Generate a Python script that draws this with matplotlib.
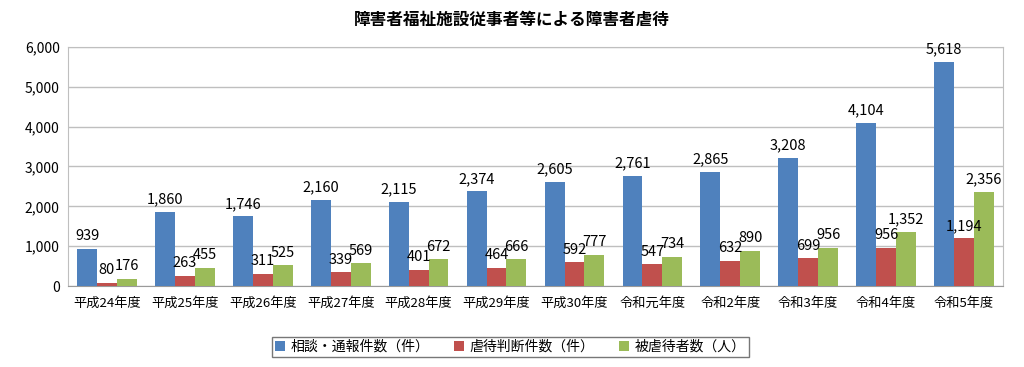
import matplotlib
matplotlib.use("Agg")
import matplotlib.pyplot as plt
import numpy as np

plt.rcParams['font.family'] = ['Noto Sans CJK JP', 'DejaVu Sans']

categories = ["平成24年度", "平成25年度", "平成26年度", "平成27年度", "平成28年度", "平成29年度",
              "平成30年度", "令和元年度", "令和2年度", "令和3年度", "令和4年度", "令和5年度"]
consultations = [939, 1860, 1746, 2160, 2115, 2374, 2605, 2761, 2865, 3208, 4104, 5618]
judged = [80, 263, 311, 339, 401, 464, 592, 547, 632, 699, 956, 1194]
victims = [176, 455, 525, 569, 672, 666, 777, 734, 890, 956, 1352, 2356]
series_names = ["相談・通報件数（件）", "虐待判断件数（件）", "被虐待者数（人）"]
colors = ["#4F81BD", "#C0504D", "#9BBB59"]

fig = plt.figure(figsize=(10.24, 3.67), dpi=100)
ax = fig.add_axes([0.0664, 0.2207, 0.9131, 0.6513])

x = np.arange(len(categories))
w = 0.255
for i, (vals, name, c) in enumerate(zip([consultations, judged, victims], series_names, colors)):
    pos = x + (i - 1) * w
    ax.bar(pos, vals, width=w, color=c, label=name, zorder=3)
    for px, v in zip(pos, vals):
        ax.text(px, v + 140, f"{v:,}", ha="center", va="bottom", fontsize=10.5, zorder=4)

ax.set_xlim(-0.5, len(categories) - 0.5)
ax.set_ylim(0, 6000)
ax.set_yticks(np.arange(0, 6001, 1000))
ax.yaxis.set_major_formatter(matplotlib.ticker.FuncFormatter(lambda v, p: f"{int(v):,}"))
ax.set_xticks(x)
ax.set_xticklabels(categories, fontsize=9.5)
ax.tick_params(axis="y", labelsize=10, length=0, pad=6)
ax.tick_params(axis="x", length=0, pad=8)
ax.grid(axis="y", color="#BFBFBF", linewidth=1, zorder=0)
for s in ["top", "right"]:
    ax.spines[s].set_color("#BFBFBF")
ax.spines["left"].set_color("#BFBFBF")
ax.spines["bottom"].set_color("#9A9A9A")

fig.text(0.5, 0.945, "障害者福祉施設従事者等による障害者虐待", ha="center", va="center",
         fontsize=12, fontweight="bold")

leg = fig.legend(loc="center", bbox_to_anchor=(0.4985, 0.0545), ncol=3, fontsize=10,
                 frameon=True, fancybox=False, edgecolor="#555555",
                 handlelength=0.7, handleheight=0.7, columnspacing=1.8, handletextpad=0.4,
                 borderpad=0.25, borderaxespad=0)
leg.get_frame().set_linewidth(1.0)

fig.savefig("out.png", dpi=100)
